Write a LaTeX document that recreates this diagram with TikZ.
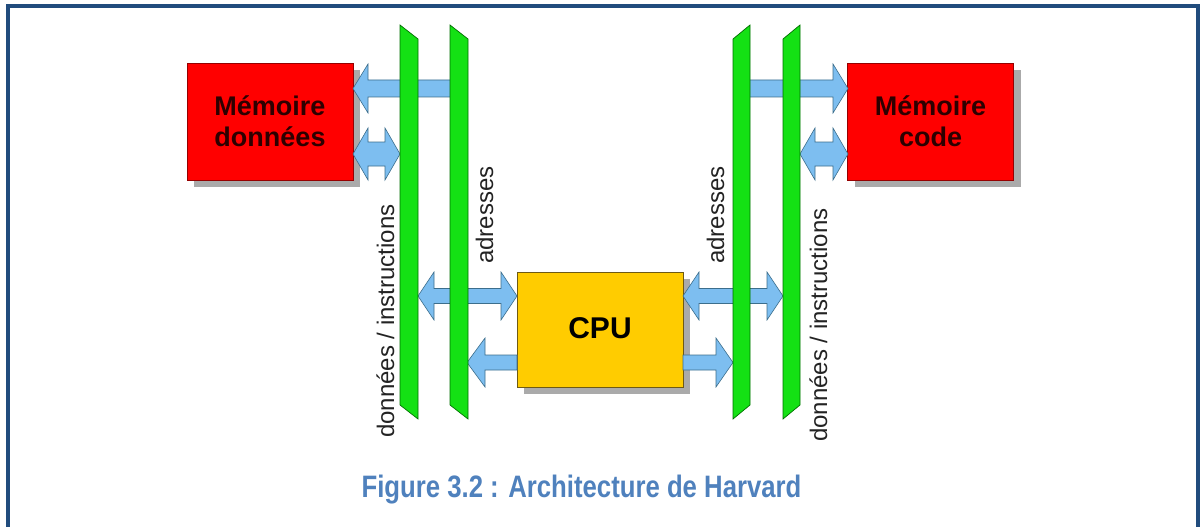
\documentclass[tikz,border=0pt]{standalone}
\usepackage{fontspec}
\setmainfont{Liberation Sans}
\usetikzlibrary{shadows}
\definecolor{framecol}{RGB}{33,76,125}
\definecolor{capcol}{RGB}{79,129,189}
\definecolor{memred}{RGB}{255,0,0}
\definecolor{memedge}{RGB}{150,0,0}
\definecolor{cpufill}{RGB}{255,204,0}
\definecolor{cpuedge}{RGB}{110,90,20}
\definecolor{busfill}{RGB}{20,225,20}
\definecolor{busedge}{RGB}{0,110,0}
\definecolor{arrfill}{RGB}{125,190,240}
\definecolor{arredge}{RGB}{60,110,140}
\definecolor{shadowcol}{RGB}{170,170,170}
\definecolor{memtext}{RGB}{45,0,0}
\definecolor{labeltext}{RGB}{35,35,35}
\tikzset{
  boxbase/.style={draw, line width=0.8pt, inner sep=0pt,
    drop shadow={shadow xshift=7pt, shadow yshift=-7pt, fill=shadowcol, opacity=1}},
  membox/.style={boxbase, fill=memred, draw=memedge, minimum width=166pt, minimum height=117pt,
    align=center, text=memtext, font=\fontsize{27}{31}\selectfont\bfseries},
  cpubox/.style={boxbase, fill=cpufill, draw=cpuedge, minimum width=166pt, minimum height=115pt,
    text=black, font=\fontsize{30}{36}\selectfont\bfseries},
  busbar/.style={fill=busfill, draw=busedge, line width=0.7pt, line join=miter},
  blockarrow/.style={fill=arrfill, draw=arredge, line width=0.6pt, line join=miter},
  buslabel/.style={rotate=90, inner sep=0pt, text=labeltext, font=\fontsize{24}{28}\selectfont},
  captionstyle/.style={inner sep=0pt, anchor=base, xscale=0.83, text=capcol,
    font=\fontsize{31}{36}\selectfont\bfseries},
  framestyle/.style={draw=framecol, line width=4pt, line join=miter}
}
% single block arrow: tip x, tail x, y, half shaft, half head, signed head length
\newcommand\singlearrow[6]{%
  \draw[blockarrow] (#2,{#3-#4}) -- ({#1+#6},{#3-#4}) -- ({#1+#6},{#3-#5}) -- (#1,#3)
    -- ({#1+#6},{#3+#5}) -- ({#1+#6},{#3+#4}) -- (#2,{#3+#4}) -- cycle;}
% double block arrow: left tip x, right tip x, y, half shaft, half head, head length
\newcommand\doublearrow[6]{%
  \draw[blockarrow] (#1,#3) -- ({#1+#6},{#3-#5}) -- ({#1+#6},{#3-#4}) -- ({#2-#6},{#3-#4})
    -- ({#2-#6},{#3-#5}) -- (#2,#3) -- ({#2-#6},{#3+#5}) -- ({#2-#6},{#3+#4})
    -- ({#1+#6},{#3+#4}) -- ({#1+#6},{#3+#5}) -- cycle;}
\begin{document}
\begin{tikzpicture}[x=1pt,y=-1pt]
\useasboundingbox (0,0) rectangle (1200,527);
% frame (open at the bottom)
\draw[framestyle] (8,527) -- (8,6) -- (1198,6) -- (1198,527);

% boxes
\node[membox] (md) at (270,121.5) {Mémoire\\données};
\node[membox] (mc) at (930.5,121.5) {Mémoire\\code};
\node[cpubox] (cpu) at (600,329.5) {\raisebox{3pt}{CPU}};

% block arrows (drawn below the buses)
\singlearrow{353}{456}{88.5}{8.5}{24.5}{15}
\doublearrow{353}{400}{154}{12}{26}{15}
\singlearrow{848}{744}{88.5}{8.5}{24.5}{-15}
\doublearrow{800}{848}{154}{12}{26}{15}
\doublearrow{418}{517}{296}{7.5}{24}{16}
\singlearrow{467}{517}{362.5}{7.5}{24.5}{18}
\doublearrow{683}{783}{296}{7.5}{24}{16}
\singlearrow{733}{683}{362.5}{7.5}{24.5}{-17}

% buses
\draw[busbar] (400,25) -- (418,39) -- (418,419) -- (400,405) -- cycle;
\draw[busbar] (450,25) -- (468,39) -- (468,419) -- (450,405) -- cycle;
\draw[busbar] (750,25) -- (733,39) -- (733,419) -- (750,405) -- cycle;
\draw[busbar] (800,25) -- (783,39) -- (783,419) -- (800,405) -- cycle;

% bus labels
\node[buslabel] (ldi) at (385.5,321) {données / instructions};
\node[buslabel] (lad) at (484.5,215) {adresses};
\node[buslabel] (rad) at (715.5,215) {adresses};
\node[buslabel] (rdi) at (818.5,325) {données / instructions};

% caption
\node[captionstyle] (cap) at (581.5,497) {Figure 3.2 : Architecture de Harvard};
\end{tikzpicture}
\end{document}
